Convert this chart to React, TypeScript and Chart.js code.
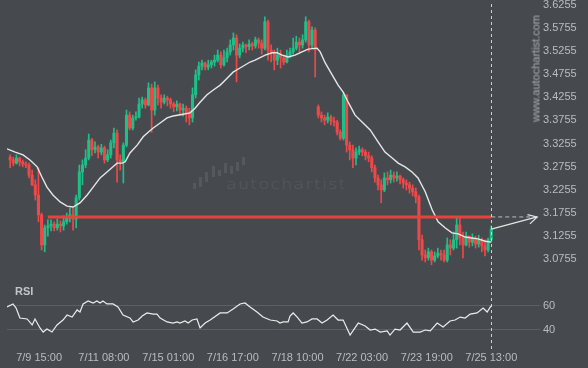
import React, { useEffect, useRef } from 'react';
import { Chart, registerables } from 'chart.js';
Chart.register(...registerables);

// ---- Data (2-hour candles, index 0..153) ----
const OPENS = [
  3.296,3.290,3.283,3.294,3.286,3.281,3.279,3.257,3.236,3.214,
  3.171,3.106,3.143,3.147,3.151,3.143,3.151,3.147,3.156,3.164,
  3.171,3.162,3.208,3.264,3.279,3.294,3.333,3.312,3.318,3.307,
  3.316,3.290,3.301,3.327,3.348,3.290,3.286,3.322,3.387,3.359,
  3.381,3.383,3.411,3.420,3.409,3.446,3.398,3.446,3.424,3.415,
  3.424,3.420,3.411,3.405,3.411,3.398,3.402,3.392,3.381,3.431,
  3.474,3.493,3.500,3.491,3.496,3.502,3.506,3.517,3.496,3.511,
  3.524,3.539,3.554,3.517,3.532,3.539,3.535,3.541,3.537,3.550,
  3.543,3.532,3.589,3.528,3.524,3.506,3.517,3.511,3.502,3.517,
  3.524,3.532,3.545,3.539,3.550,3.589,3.539,3.571,3.405,3.387,
  3.381,3.376,3.383,3.374,3.372,3.350,3.337,3.431,3.322,3.312,
  3.294,3.307,3.312,3.307,3.299,3.294,3.273,3.251,3.236,3.225,
  3.251,3.247,3.257,3.251,3.255,3.247,3.240,3.236,3.229,3.221,
  3.210,3.117,3.084,3.078,3.091,3.073,3.082,3.088,3.084,3.073,
  3.106,3.099,3.117,3.149,3.121,3.106,3.125,3.112,3.119,3.108,
  3.117,3.104,3.095,3.117,
];
const HIGHS = [
  3.301,3.296,3.301,3.296,3.290,3.286,3.283,3.268,3.247,3.273,
  3.175,3.149,3.160,3.160,3.156,3.162,3.158,3.169,3.175,3.186,
  3.188,3.214,3.279,3.290,3.312,3.346,3.337,3.329,3.322,3.324,
  3.320,3.312,3.333,3.359,3.355,3.301,3.327,3.398,3.394,3.387,
  3.394,3.424,3.426,3.424,3.457,3.454,3.459,3.452,3.431,3.431,
  3.428,3.424,3.415,3.418,3.413,3.411,3.407,3.402,3.446,3.485,
  3.502,3.506,3.502,3.506,3.506,3.517,3.528,3.524,3.528,3.532,
  3.550,3.565,3.561,3.541,3.545,3.541,3.550,3.545,3.556,3.554,
  3.550,3.600,3.593,3.539,3.528,3.532,3.528,3.517,3.528,3.532,
  3.554,3.558,3.554,3.561,3.600,3.593,3.578,3.576,3.409,3.394,
  3.387,3.392,3.387,3.383,3.376,3.355,3.437,3.431,3.329,3.322,
  3.316,3.320,3.316,3.312,3.307,3.299,3.279,3.257,3.247,3.262,
  3.264,3.268,3.264,3.264,3.257,3.251,3.247,3.242,3.236,3.229,
  3.214,3.127,3.095,3.099,3.095,3.091,3.099,3.095,3.095,3.121,
  3.117,3.134,3.164,3.164,3.134,3.134,3.125,3.130,3.125,3.127,
  3.121,3.117,3.121,3.147,
];
const LOWS = [
  3.273,3.277,3.281,3.277,3.275,3.273,3.251,3.234,3.203,3.156,
  3.095,3.091,3.125,3.136,3.136,3.138,3.134,3.138,3.151,3.156,
  3.138,3.143,3.203,3.236,3.273,3.290,3.299,3.305,3.294,3.301,
  3.283,3.286,3.294,3.316,3.242,3.268,3.240,3.318,3.355,3.355,
  3.376,3.381,3.402,3.402,3.407,3.350,3.387,3.409,3.402,3.411,
  3.407,3.402,3.394,3.396,3.387,3.385,3.372,3.366,3.372,3.424,
  3.463,3.485,3.485,3.485,3.489,3.493,3.502,3.489,3.493,3.502,
  3.517,3.528,3.459,3.511,3.524,3.522,3.528,3.528,3.532,3.532,
  3.519,3.528,3.506,3.502,3.485,3.496,3.489,3.496,3.500,3.511,
  3.519,3.528,3.524,3.532,3.545,3.524,3.532,3.470,3.381,3.372,
  3.366,3.370,3.366,3.363,3.344,3.333,3.333,3.307,3.290,3.273,
  3.279,3.301,3.299,3.290,3.286,3.264,3.242,3.225,3.197,3.221,
  3.236,3.240,3.242,3.244,3.238,3.229,3.225,3.218,3.212,3.197,
  3.095,3.073,3.069,3.073,3.063,3.069,3.078,3.073,3.069,3.069,
  3.084,3.095,3.099,3.106,3.078,3.104,3.101,3.104,3.099,3.101,
  3.091,3.082,3.091,3.112,
];
const CLOSES = [
  3.290,3.283,3.294,3.286,3.281,3.279,3.257,3.236,3.214,3.171,
  3.106,3.143,3.147,3.151,3.143,3.151,3.147,3.156,3.164,3.171,
  3.162,3.208,3.264,3.279,3.294,3.333,3.312,3.318,3.307,3.316,
  3.290,3.301,3.327,3.348,3.290,3.286,3.322,3.387,3.359,3.381,
  3.383,3.411,3.420,3.409,3.446,3.398,3.446,3.424,3.415,3.424,
  3.420,3.411,3.405,3.411,3.398,3.402,3.392,3.381,3.431,3.474,
  3.493,3.500,3.491,3.496,3.502,3.506,3.517,3.496,3.511,3.524,
  3.539,3.554,3.517,3.532,3.539,3.535,3.541,3.537,3.550,3.543,
  3.532,3.589,3.528,3.524,3.506,3.517,3.511,3.502,3.517,3.524,
  3.532,3.545,3.539,3.550,3.589,3.539,3.571,3.528,3.387,3.381,
  3.376,3.383,3.374,3.372,3.350,3.337,3.431,3.322,3.312,3.294,
  3.307,3.312,3.307,3.299,3.294,3.273,3.251,3.236,3.225,3.251,
  3.247,3.257,3.251,3.255,3.247,3.240,3.236,3.229,3.221,3.210,
  3.117,3.084,3.078,3.091,3.073,3.082,3.088,3.084,3.073,3.106,
  3.099,3.117,3.149,3.121,3.106,3.125,3.112,3.119,3.108,3.117,
  3.104,3.095,3.117,3.140,
];

const MA_X = [-1,1.6,4.1,6.3,8.6,10.1,11.7,13.6,15.9,18.1,20,22.2,24.5,26.4,28.6,30.8,32.7,34,35.6,36.6,38.1,40.4,42.3,43.9,45.5,47.7,49.9,51.8,55,57.2,58.8,60.4,62.6,64.5,66.8,69,70.9,73.1,76.3,77.9,81.1,83.3,84.9,86.5,88.4,90.6,92.8,94.8,97.6,98.6,100.2,102.4,104.3,105.9,107.5,109.7,111.9,114.5,117,119.2,121.5,123.4,125.6,127.8,129.7,132,134.2,136.1,138.3,140.5,142.5,144.7,146.9,148.8,151.1,153];
const MA_Y = [3.314,3.307,3.301,3.290,3.275,3.253,3.231,3.214,3.199,3.190,3.188,3.197,3.214,3.231,3.251,3.264,3.275,3.283,3.283,3.286,3.305,3.322,3.340,3.350,3.359,3.370,3.381,3.385,3.389,3.392,3.402,3.415,3.431,3.441,3.452,3.467,3.480,3.489,3.502,3.506,3.517,3.522,3.522,3.517,3.513,3.517,3.524,3.530,3.532,3.524,3.500,3.474,3.452,3.437,3.415,3.387,3.372,3.355,3.329,3.307,3.294,3.283,3.275,3.264,3.251,3.221,3.182,3.156,3.143,3.132,3.130,3.123,3.121,3.119,3.114,3.112];

const RSI_X = [-1,0.9,1.9,3.1,5.4,7,7.9,9.5,10.5,11.7,13.3,14.9,16.8,18.1,19.7,21.3,22.2,23.2,24.8,26.4,27.6,28.6,29.5,30.8,32.7,34.3,35.9,38.1,39.1,40.7,42,43.5,45.5,46.7,47.7,49.9,51.8,53.1,54,55.6,56.6,57.9,59.4,60.4,62,63.6,66.8,69,70.9,73.1,74.7,76.3,78.5,80.4,82.7,84.9,85.8,86.8,88.4,89,90,91.3,92.8,94.4,96,97.6,99.2,100.8,102.7,104.3,105.9,108.1,110.7,112.9,114.5,116.1,117.7,119.9,120.8,122.4,124,126.2,128.2,130.4,132,133.6,135.8,137.7,139.9,141.5,143.1,144.7,146.3,148.5,150.4,151.7,152.7,153];
const RSI_Y = [59.2,61.7,58.3,50,49.2,44.2,49.2,41.7,38.3,40.8,38.3,44.2,48.3,52.5,50.8,56.7,55,61.7,64.2,62.5,64.2,62.5,64.2,61.7,61.7,59.2,52.5,50,46.7,48.3,51.7,54.2,53.3,53.3,50,46.7,45.8,46.7,45.8,47.5,45.8,48.3,49.2,41.7,45.8,48.3,54.2,54.2,57.5,61.7,62.5,59.2,55,50.8,48.3,47.5,45.8,46.7,46.7,51.7,54.2,50.8,45.8,46.7,49.2,49.2,45.8,48.3,52.5,48.3,48.3,35.8,45.8,43.3,40,40.8,38.3,39.2,35.8,40.8,40,45.8,38.3,38.3,40,39.2,45.8,42.5,47.5,48.3,50.8,50,53.3,54.2,58.3,55,59.2,60];

const PRICE_TICKS = [3.0755,3.1255,3.1755,3.2255,3.2755,3.3255,3.3755,3.4255,3.4755,3.5255,3.5755,3.6255];
const RSI_TICKS = [40, 60];
const X_TICK_POS = [9.2, 29.8, 50.3, 70.8, 91.4, 111.9, 132.5, 153];
const X_TICK_LABELS = ['7/9 15:00','7/11 08:00','7/15 01:00','7/16 17:00','7/18 10:00','7/22 03:00','7/23 19:00','7/25 13:00'];

const LEVEL = 3.1665;
const LEVEL_START = 12;
const TARGET_X = 167.6;
const LAST = CLOSES.length - 1;

// ---- Styles ----
const BG = '#464a4f';
const GREEN = '#1fbf88';
const RED = '#f04848';
const TEXT = '#b9bcc0';
const FONT = '"Liberation Sans", Arial, sans-serif';

const WM_BARS: [number, number, number][] = [
  [193, 183, 6], [199, 177, 10], [205, 172, 10], [212, 166, 11], [218, 170, 6],
  [224, 163, 10], [230, 166, 8], [236, 162, 9], [242, 157, 8],
];

const overlayPlugin = {
  id: 'overlay',
  afterDatasetsDraw(chart: any) {
    const { ctx, chartArea, scales } = chart;
    const x = Math.round(scales.x.getPixelForValue(LAST)) + 0.5;
    ctx.save();
    ctx.strokeStyle = '#cfcfcf';
    ctx.lineWidth = 1;
    ctx.setLineDash([3, 3]);
    ctx.beginPath();
    ctx.moveTo(x, chartArea.top + 4);
    ctx.lineTo(x, chartArea.bottom + 5);
    ctx.stroke();
    const x0 = scales.x.getPixelForValue(LAST);
    const y0 = scales.y.getPixelForValue(CLOSES[LAST]);
    const x1 = scales.x.getPixelForValue(TARGET_X);
    const y1 = scales.y.getPixelForValue(LEVEL);
    const ang = Math.atan2(y1 - y0, x1 - x0);
    ctx.setLineDash([]);
    ctx.strokeStyle = '#e4e4e4';
    ctx.lineWidth = 1.2;
    ctx.beginPath();
    ctx.moveTo(x1 - 10 * Math.cos(ang - 0.5), y1 - 10 * Math.sin(ang - 0.5));
    ctx.lineTo(x1, y1);
    ctx.lineTo(x1 - 10 * Math.cos(ang + 0.5), y1 - 10 * Math.sin(ang + 0.5));
    ctx.stroke();
    ctx.restore();
  },
};

export default function App() {
  const ref = useRef<HTMLCanvasElement>(null);
  useEffect(() => {
    document.body.style.margin = '0';
    const colors = CLOSES.map((c, i) => (c >= OPENS[i] ? GREEN : RED));
    const idx = CLOSES.map((_, i) => i);
    const tickFont = { family: FONT, size: 11 };
    const chart = new Chart(ref.current as HTMLCanvasElement, {
      type: 'bar',
      data: {
        datasets: [
          {
            type: 'line', label: 'arrow', yAxisID: 'y',
            data: [{ x: LAST, y: CLOSES[LAST] }, { x: TARGET_X, y: LEVEL }],
            borderColor: '#e4e4e4', borderWidth: 1.2, pointRadius: 0,
          },
          {
            type: 'line', label: 'ext', yAxisID: 'y',
            data: [{ x: LAST, y: LEVEL }, { x: TARGET_X, y: LEVEL }],
            borderColor: '#bdbdbd', borderWidth: 1, borderDash: [4, 3], pointRadius: 0,
          },
          {
            type: 'line', label: 'level', yAxisID: 'y',
            data: [{ x: LEVEL_START, y: LEVEL }, { x: LAST, y: LEVEL }],
            borderColor: '#e8423f', borderWidth: 3, pointRadius: 0,
          },
          {
            type: 'line', label: 'ma', yAxisID: 'y',
            data: MA_X.map((x, i) => ({ x, y: MA_Y[i] })),
            borderColor: '#e6e6e6', borderWidth: 1.4, pointRadius: 0, tension: 0,
          },
          {
            type: 'line', label: 'rsi', yAxisID: 'rsi',
            data: RSI_X.map((x, i) => ({ x, y: RSI_Y[i] })),
            borderColor: '#ececec', borderWidth: 1.2, pointRadius: 0, tension: 0,
          },
          {
            type: 'bar', label: 'body', yAxisID: 'y',
            data: idx.map((i) => ({ x: i, y: [OPENS[i], CLOSES[i]] })) as any,
            backgroundColor: colors, barThickness: 2.4, grouped: false, minBarLength: 1, borderWidth: 0,
          },
          {
            type: 'bar', label: 'wick', yAxisID: 'y',
            data: idx.map((i) => ({ x: i, y: [LOWS[i], HIGHS[i]] })) as any,
            backgroundColor: colors, barThickness: 1, grouped: false, borderWidth: 0,
          },
        ] as any,
      },
      options: {
        responsive: false,
        animation: false,
        events: [],
        layout: { padding: { left: 7, right: 0, top: 0, bottom: 4 } },
        plugins: { legend: { display: false }, tooltip: { enabled: false } },
        scales: {
          x: {
            type: 'linear', min: -1, max: 168.5, offset: false,
            grid: { display: false, drawTicks: false }, border: { display: false },
            ticks: {
              color: TEXT, font: tickFont, padding: 6, autoSkip: false, maxRotation: 0,
              callback: (_v: any, i: number) => X_TICK_LABELS[i],
            },
            afterBuildTicks: (s: any) => { s.ticks = X_TICK_POS.map((v) => ({ value: v })); },
            afterFit: (s: any) => { s.height = 19; s.paddingLeft = 0; s.paddingRight = 0; },
          },
          y: {
            type: 'linear', position: 'right', stack: 'panes', stackWeight: 275,
            min: 3.0408, max: 3.6363,
            grid: { display: false, drawTicks: false }, border: { display: false },
            ticks: { color: TEXT, font: tickFont, padding: 3, autoSkip: false, callback: (v: any) => Number(v).toFixed(4) },
            afterBuildTicks: (s: any) => { s.ticks = PRICE_TICKS.map((v) => ({ value: v })); },
            afterFit: (s: any) => { s.width = 48; s.paddingTop = 0; s.paddingBottom = 0; },
          },
          rsi: {
            type: 'linear', position: 'right', stack: 'panes', stackWeight: 70,
            min: 27.5, max: 85.83,
            grid: { color: '#5c6065', lineWidth: 1, drawTicks: false }, border: { display: false },
            ticks: { color: TEXT, font: tickFont, padding: 3, autoSkip: false, callback: (v: any) => String(v) },
            afterBuildTicks: (s: any) => { s.ticks = RSI_TICKS.map((v) => ({ value: v })); },
            afterFit: (s: any) => { s.width = 48; s.paddingTop = 0; s.paddingBottom = 0; },
          },
        } as any,
      },
      plugins: [overlayPlugin],
    });
    return () => chart.destroy();
  }, []);

  return (
    <div style={{ position: 'relative', width: 588, height: 368, background: BG, overflow: 'hidden' }}>
      {WM_BARS.map(([l, t, h], i) => (
        <div key={i} style={{ position: 'absolute', left: l, top: t, width: 3, height: h, background: '#55595e' }} />
      ))}
      <div style={{ position: 'absolute', left: 226, top: 177, font: '300 14px "DejaVu Sans", sans-serif', letterSpacing: 1, lineHeight: '14px', color: '#575b60', whiteSpace: 'nowrap', transform: 'scaleX(1.25)', transformOrigin: '0 0' }}>autochartist</div>
      <canvas ref={ref} width={588} height={368} style={{ position: 'absolute', left: 0, top: 0 }} />
      <div style={{ position: 'absolute', left: 15, top: 285, font: `bold 11px ${FONT}`, lineHeight: '12px', color: '#c2c5c9' }}>RSI</div>
      <div style={{ position: 'absolute', left: 481, top: 62, width: 110, height: 13, textAlign: 'center', font: `11px ${FONT}`, lineHeight: '13px', color: '#a9acb0', transform: 'rotate(-90deg)', transformOrigin: '55px 6.5px', whiteSpace: 'nowrap' }}>www.autochartist.com</div>
    </div>
  );
}
